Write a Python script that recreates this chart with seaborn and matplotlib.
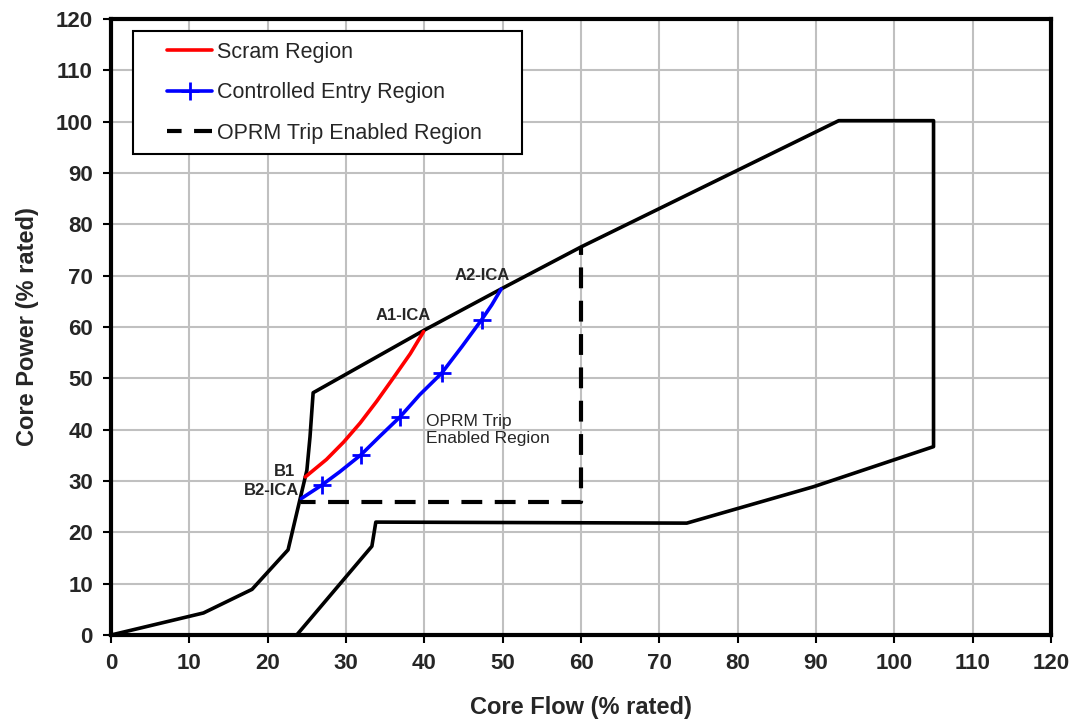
import matplotlib
matplotlib.use("Agg")
import matplotlib.pyplot as plt
import seaborn as sns
import pandas as pd
from matplotlib.legend_handler import HandlerLine2D

# Datos ----------------------------------------
# contorno del mapa potencia / caudal
bound_x = [0, 11.8, 18.0, 22.6, 24.1, 25.0, 25.4, 25.8, 40.0, 49.9, 60.0, 92.9, 105.0,
           105.0, 89.7, 73.5, 33.8, 33.3, 23.7]
bound_y = [0, 4.3, 8.9, 16.6, 26.3, 32.1, 38.6, 47.2, 59.4, 67.5, 75.6, 100.2, 100.2,
           36.7, 28.9, 21.8, 22.0, 17.3, 0]

# Scram Region (B1 -> A1-ICA)
scram_x = [24.8, 27.5, 29.7, 31.8, 33.9, 36.0, 38.2, 39.9]
scram_y = [30.8, 34.2, 37.6, 41.3, 45.5, 50.0, 54.8, 59.1]

# Controlled Entry Region (B2-ICA -> A2-ICA)
entry_x = [24.3, 26.9, 29.2, 31.9, 34.3, 36.9, 39.4, 42.2, 44.8, 47.3, 48.6, 49.8]
entry_y = [26.6, 29.2, 31.8, 35.1, 38.7, 42.5, 46.8, 51.0, 56.2, 61.4, 64.3, 67.4]
entry_marks = [1, 3, 5, 7, 9]

# OPRM Trip Enabled Region
oprm_x = [24.3, 60.0, 60.0]
oprm_y = [26.0, 26.0, 75.6]

xticks = list(range(0, 121, 10))
yticks = list(range(0, 121, 10))

sns.set_style("whitegrid")
plt.rcParams['font.family'] = ['Liberation Sans', 'DejaVu Sans']

fig, ax = plt.subplots(figsize=(10.76, 7.26), dpi=100)
fig.subplots_adjust(left=0.1032, right=0.9768, bottom=0.1253, top=0.9738)

bound = pd.DataFrame({'x': bound_x, 'y': bound_y})
scram = pd.DataFrame({'x': scram_x, 'y': scram_y})
entry = pd.DataFrame({'x': entry_x, 'y': entry_y})
oprm = pd.DataFrame({'x': oprm_x, 'y': oprm_y})

sns.lineplot(data=bound, x='x', y='y', sort=False, estimator=None, ax=ax,
             color='black', lw=2.6, label='_nolegend_')
sns.lineplot(data=scram, x='x', y='y', sort=False, estimator=None, ax=ax,
             color='#ff0000', lw=2.6, label='Scram Region')
sns.lineplot(data=entry, x='x', y='y', sort=False, estimator=None, ax=ax,
             color='#0000ff', lw=2.6, marker='+', markersize=13, mew=2,
             mec='#0000ff', markevery=entry_marks, label='Controlled Entry Region')
sns.lineplot(data=oprm, x='x', y='y', sort=False, estimator=None, ax=ax,
             color='black', lw=3, linestyle=(1.5, (5, 3)),
             label='OPRM Trip Enabled Region')

# Ejes
ax.set_xlim(0, 120)
ax.set_ylim(0, 120)
ax.set_xticks(xticks)
ax.set_yticks(yticks)
ax.grid(True, color='#c0c0c0', lw=1.5)
for s in ax.spines.values():
    s.set_color('black')
    s.set_linewidth(3)
ax.tick_params(axis='both', which='major', direction='out', length=6, width=1.5,
               color='black', labelsize=16, pad=7, bottom=True, left=True)
for lab in ax.get_xticklabels() + ax.get_yticklabels():
    lab.set_fontweight('bold')
ax.set_xlabel('Core Flow (% rated)', fontsize=17, fontweight='bold', labelpad=16)
ax.set_ylabel('Core Power (% rated)', fontsize=17, fontweight='bold', labelpad=12)

# Etiquetas de puntos
ax.text(23.5, 31.8, 'B1', ha='right', va='center', fontsize=12, fontweight='bold')
ax.text(24.0, 28.2, 'B2-ICA', ha='right', va='center', fontsize=12, fontweight='bold')
ax.text(37.3, 62.3, 'A1-ICA', ha='center', va='center', fontsize=12, fontweight='bold')
ax.text(47.4, 70.1, 'A2-ICA', ha='center', va='center', fontsize=12, fontweight='bold')
ax.text(40.2, 40.0, 'OPRM Trip\nEnabled Region', ha='left', va='center', fontsize=12.5,
        linespacing=1.15)

# Leyenda
handles, labels = ax.get_legend_handles_labels()
leg = ax.legend(handles, labels, loc='upper left',
                bbox_to_anchor=(0.0234, 0.9805, 0.4138, 0.0), mode='expand',
                fontsize=15.5, frameon=True, fancybox=False, framealpha=1,
                edgecolor='black', handlelength=3.15, handletextpad=0.25,
                labelspacing=0.9, borderpad=0.5, borderaxespad=0,
                handler_map={h: HandlerLine2D(xpad=1.1) for h in handles})
leg.get_frame().set_linewidth(1.5)

plt.savefig('out.png', dpi=100)
